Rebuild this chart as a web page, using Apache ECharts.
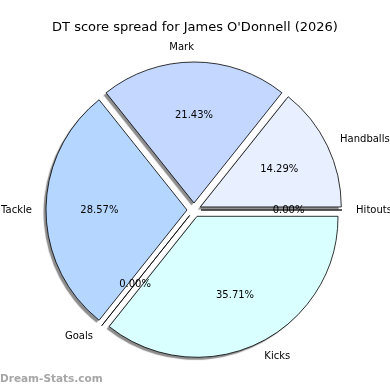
<!DOCTYPE html>
<html>
<head>
<meta charset="utf-8">
<script src="https://cdn.jsdelivr.net/npm/echarts@6/dist/echarts.min.js"></script>
<style>html,body{margin:0;padding:0;background:#fff}#c{width:390px;height:390px}</style>
</head>
<body>
<div id="c"></div>
<script>
const categories = ['Hitouts', 'Handballs', 'Mark', 'Tackle', 'Goals', 'Kicks'];
const values = [0, 2, 3, 4, 0, 5];
const colors = ['#ffffff', '#e8f0ff', '#c4d8ff', '#b4d6ff', '#b4d6ff', '#d9ffff'];
const titleText = "DT score spread for James O'Donnell (2026)";
const watermark = 'Dream-Stats.com';

const total = values.reduce((a, b) => a + b, 0);
const chart = echarts.init(document.getElementById('c'));
const R = 141, OFF = 7, CENTER = [194, 210];
const FONT = 'DejaVu Sans';

function mk(extra) {
  return categories.map((c, i) => Object.assign({ name: c, value: values[i], selected: true }, extra ? extra(i) : {}));
}
const base = {
  type: 'pie', radius: R, center: CENTER, startAngle: 0, clockwise: false,
  selectedMode: 'multiple', selectedOffset: OFF, avoidLabelOverlap: false,
  silent: true, emphasis: { disabled: true }, labelLine: { show: false }
};

chart.setOption({
  animation: false,
  title: [{
    text: titleText, left: 'center', top: 16,
    textStyle: { fontFamily: FONT, fontSize: 13, fontWeight: 'normal', color: '#000' }
  }, {
    text: watermark, left: 0, top: 374, padding: 0,
    textStyle: { fontFamily: FONT, fontSize: 10.5, fontWeight: 'bold', color: '#a6a6a6' }
  }],
  series: [Object.assign({}, base, {
    label: { show: false },
    data: mk(i => ({ itemStyle: { color: colors[i] } })),
    itemStyle: {
      borderWidth: 0,
      shadowColor: 'rgba(0,0,0,0.45)', shadowBlur: 1, shadowOffsetX: -2.5, shadowOffsetY: 2.5
    }
  }), Object.assign({}, base, {
    label: { show: false },
    data: mk(),
    itemStyle: { color: 'rgba(0,0,0,0)', borderColor: '#000', borderWidth: 0.8 }
  }), Object.assign({}, base, {
    radius: R * 1.2,
    itemStyle: { color: 'rgba(0,0,0,0)', borderWidth: 0 },
    label: {
      show: true, position: 'inside', fontFamily: FONT, fontSize: 10, color: '#000',
      formatter: p => (p.value / total * 100).toFixed(2) + '%'
    },
    data: mk()
  }), Object.assign({}, base, {
    itemStyle: { color: 'rgba(0,0,0,0)', borderWidth: 0 },
    label: {
      show: true, position: 'outside', fontFamily: FONT, fontSize: 10, color: '#000',
      distanceToLabelLine: 0, formatter: '{b}'
    },
    labelLine: { show: false, length: R * 0.1, length2: 0 },
    labelLayout: p => categories[p.dataIndex] === 'Mark' ? { align: 'right' } : {},
    data: mk()
  })]
});
</script>
</body>
</html>
